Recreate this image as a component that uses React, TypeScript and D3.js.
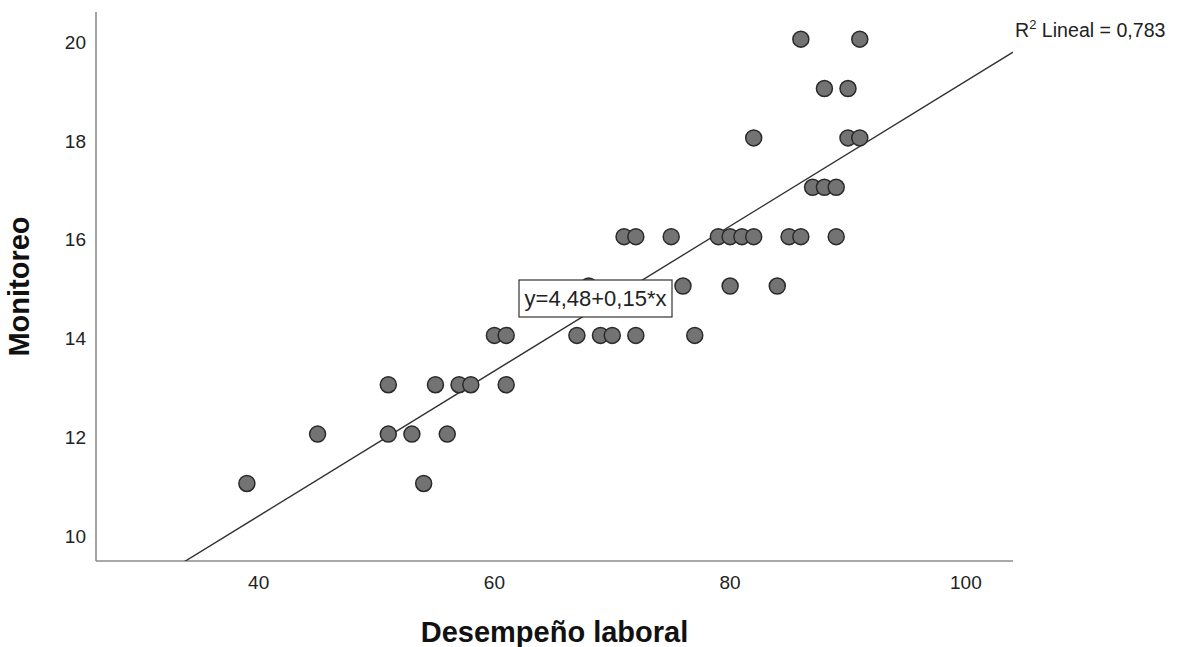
import React from "react";
import * as d3 from "d3";

// Desempeño laboral (x) per Monitoreo level (y)
const monitoreoLevels = [20, 19, 18, 17, 16, 15, 14, 13, 12, 11];
const desempenoByLevel = [
  [86, 91],
  [88, 90],
  [82, 90, 91],
  [87, 88, 89],
  [71, 72, 75, 79, 80, 81, 82, 85, 86, 89],
  [68, 76, 80, 84],
  [60, 61, 67, 69, 70, 72, 77],
  [51, 55, 57, 58, 61],
  [45, 51, 53, 56],
  [39, 54],
];

const xTicks = [40, 60, 80, 100];
const yTicks = [10, 12, 14, 16, 18, 20];

// fit line (as drawn)
const intercept = 4.47;
const slope = 0.1468;
const equationLabel = "y=4,48+0,15*x";
const r2Label = "0,783";

const W = 1179;
const H = 647;
const plot = { left: 96, right: 1013, top: 12, bottom: 561 };
const FONT = "'Liberation Sans', Arial, sans-serif";

const App = () => {
  const x = d3.scaleLinear().domain([26.2, 104]).range([plot.left, plot.right]);
  const y = d3.scaleLinear().domain([9.43, 20.55]).range([plot.bottom, plot.top]);

  const points = monitoreoLevels.flatMap((lvl, i) =>
    desempenoByLevel[i].map((d) => ({ x: d, y: lvl }))
  );

  const fitLine = d3
    .line<number>()
    .x((d) => x(d))
    .y((d) => y(intercept + slope * d));
  const xDom = x.domain();

  return (
    <svg
      width={W}
      height={H}
      style={{ position: "fixed", left: 0, top: 0, background: "#fff" }}
      fontFamily={FONT}
    >
      <defs>
        <clipPath id="plotClip">
          <rect
            x={plot.left}
            y={plot.top}
            width={plot.right - plot.left}
            height={plot.bottom - plot.top}
          />
        </clipPath>
      </defs>

      {/* axes */}
      <line x1={plot.left} x2={plot.left} y1={plot.top} y2={plot.bottom} stroke="#8c8c8c" strokeWidth={1.6} />
      <line x1={plot.left} x2={plot.right} y1={plot.bottom} y2={plot.bottom} stroke="#8c8c8c" strokeWidth={1.6} />

      {yTicks.map((t) => (
        <text key={t} x={plot.left - 10} y={y(t) + 3} dy="0.35em" textAnchor="end" fontSize={19} fill="#222">
          {t}
        </text>
      ))}
      {xTicks.map((t) => (
        <text key={t} x={x(t)} y={589} textAnchor="middle" fontSize={19} fill="#222">
          {t}
        </text>
      ))}

      {/* fit line */}
      <path
        d={fitLine([xDom[0], xDom[1]]) || ""}
        fill="none"
        stroke="#333"
        strokeWidth={1.4}
        clipPath="url(#plotClip)"
      />

      {/* points */}
      {points.map((p, i) => (
        <circle key={i} cx={x(p.x)} cy={y(p.y)} r={8} fill="#737373" stroke="#2a2a2a" strokeWidth={1.5} />
      ))}

      {/* equation box */}
      <rect x={519} y={280} width={153} height={37} fill="#fff" stroke="#333" strokeWidth={1.2} />
      <text x={595.5} y={306} textAnchor="middle" fontSize={22} fill="#222">
        {equationLabel}
      </text>

      {/* R2 */}
      <text x={1015} y={37} fontSize={19.6} fill="#222">
        R<tspan fontSize={13} dy={-8}>2</tspan>
        <tspan dy={8}> Lineal = {r2Label}</tspan>
      </text>

      {/* axis titles */}
      <text x={(plot.left + plot.right) / 2} y={642} textAnchor="middle" fontSize={29} fontWeight="bold" fill="#111">
        Desempeño laboral
      </text>
      <text
        transform={`translate(29, ${(plot.top + plot.bottom) / 2}) rotate(-90)`}
        textAnchor="middle"
        fontSize={29}
        fontWeight="bold"
        fill="#111"
      >
        Monitoreo
      </text>
    </svg>
  );
};

export default App;
